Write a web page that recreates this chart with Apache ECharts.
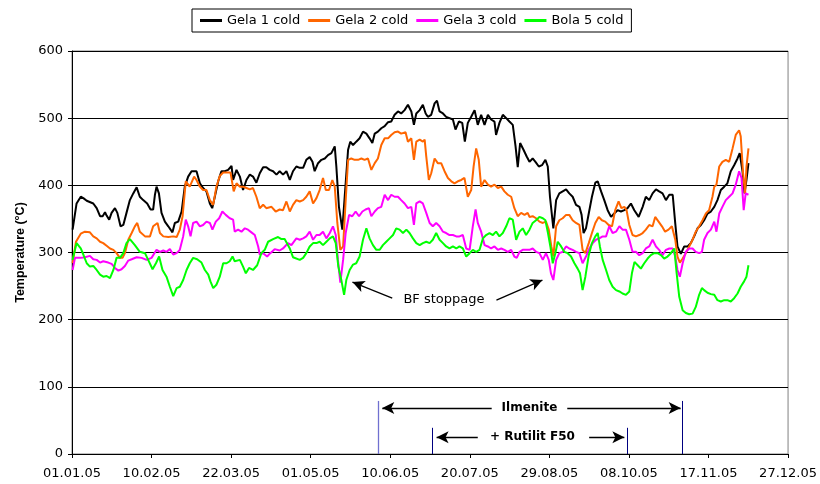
<!DOCTYPE html>
<html>
<head>
<meta charset="utf-8">
<script src="https://cdn.jsdelivr.net/npm/echarts@6/dist/echarts.min.js"></script>
<style>
html,body{margin:0;padding:0;background:#ffffff;}
#chart{width:820px;height:484px;}
</style>
</head>
<body>
<div id="chart"></div>
<script>
// ---------------- DATA ----------------
// x values: days since 01.01.05
const tickLabels = ['01.01.05','10.02.05','22.03.05','01.05.05','10.06.05','20.07.05','29.08.05','08.10.05','17.11.05','27.12.05'];
const seriesNames = ['Gela 1 cold','Gela 2 cold','Gela 3 cold','Bola 5 cold'];

const gela1Days = [0.3,2.3,4.4,5.7,7.4,10.7,12.4,14.1,15.4,16.6,17.4,18.7,19.9,21.6,22.8,24.4,25.8,27.4,29.1,30.8,32.5,34.1,35.8,37.8,39.5,40.8,41.7,42.5,43.7,45.0,46.7,48.4,50.5,51.7,53.4,55.1,56.7,58.4,60.1,62.6,64.3,65.9,67.6,69.3,70.5,71.8,73.5,75.1,76.8,78.5,80.2,81.0,82.7,84.4,86.0,87.7,89.4,91.0,92.7,94.4,96.1,97.7,99.4,101.1,102.8,104.4,106.1,107.8,109.5,111.1,112.8,
 114.5,116.2,117.8,119.5,120.9,122.0,123.7,125.4,127.1,128.7,130.4,132.1,132.9,134.2,135.9,137.1,138.8,139.9,141.3,142.9,144.6,146.3,148.0,149.6,151.0,152.2,153.8,155.5,157.2,158.9,160.5,162.2,163.9,165.5,167.2,168.9,170.6,171.9,173.1,174.8,176.4,177.8,178.9,180.6,182.3,183.5,184.8,186.5,188.1,189.8,191.5,192.8,194.5,196.2,197.5,199.0,200.7,202.4,204.0,205.7,207.4,209.1,210.7,212.4,213.2,214.9,216.6,218.3,219.9,221.6,223.0,224.1,225.3,227.0,228.6,
 230.0,231.6,233.0,234.7,236.3,238.0,239.2,240.3,242.0,243.4,245.0,246.7,248.4,250.0,251.7,253.4,255.1,256.2,257.2,258.4,259.8,261.4,263.1,264.3,266.0,267.6,269.3,271.0,272.6,274.3,276.0,277.7,279.3,281.0,282.7,284.9,286.9,288.5,290.2,291.9,293.6,295.2,296.9,298.6,300.3,302.0,303.3,304.4,306.1,307.8,309.5,311.1,312.8,314.5,316.2,317.8,319.5,321.2,322.9,324.5,326.2,327.9,329.5,331.2,332.9,334.6,335.7,337.1,338.1,339.1,340.1];
const gela1Temp = [334,373,383,381,377,373,366,354,354,360,355,349,359,366,359,339,341,359,378,388,397,383,378,373,364,364,386,398,388,359,346,339,330,344,346,361,398,413,421,421,403,396,391,373,366,383,406,421,421,423,429,408,423,413,393,408,416,413,404,418,427,427,423,421,416,421,416,421,408,421,428,
 426,426,438,442,435,421,433,438,440,445,448,458,428,368,334,383,453,465,460,465,470,480,477,470,463,477,480,485,488,494,495,505,510,507,512,520,510,490,507,512,520,507,502,505,522,526,510,507,502,500,498,483,495,493,465,493,502,512,490,505,490,505,498,495,475,493,505,500,495,490,458,427,463,453,443,
 435,440,435,428,430,438,428,383,336,378,388,391,394,388,383,371,368,356,329,336,358,383,404,406,391,378,363,353,358,363,361,363,366,373,363,353,368,383,378,388,394,391,388,378,386,386,343,309,298,309,309,314,324,336,341,348,358,361,368,378,393,398,403,421,430,440,448,421,388,408,433];

const gela2Days = [0.3,2.0,4.4,6.5,9.0,10.7,12.4,14.1,15.7,17.4,19.1,20.8,22.4,24.1,25.4,26.6,28.3,30.0,31.6,32.8,34.1,36.7,39.2,40.8,43.0,44.2,45.9,48.4,50.9,52.6,54.2,55.6,57.2,59.2,61.4,62.6,64.3,65.9,67.6,69.3,71.0,72.6,74.3,76.0,77.7,79.7,80.7,81.3,82.7,84.4,86.0,87.7,89.4,91.0,92.7,94.4,96.1,97.7,100.3,102.4,104.4,106.1,107.8,109.5,111.1,112.8,
 114.5,116.2,117.8,119.5,121.2,122.9,124.5,126.2,127.6,129.2,130.9,132.1,133.4,134.9,136.3,137.6,138.8,140.4,142.1,143.8,145.5,147.1,148.8,150.5,152.2,153.8,155.5,157.2,158.9,160.5,162.2,163.9,165.5,167.7,168.9,170.6,171.9,173.1,174.8,176.4,177.3,178.1,179.4,180.6,182.3,183.9,185.6,187.3,189.0,190.7,192.3,194.0,195.7,197.3,199.0,200.7,201.9,203.2,204.5,205.7,207.4,209.1,210.7,212.4,214.1,215.8,217.4,219.1,220.8,222.4,224.1,225.8,227.5,229.1,
 230.0,231.6,233.3,235.0,236.7,238.3,239.7,241.0,242.0,243.4,245.0,246.7,248.4,250.0,251.7,253.4,255.1,256.7,258.1,259.8,261.4,263.1,264.8,266.4,268.1,269.8,271.5,273.1,274.8,276.2,277.7,278.8,280.2,281.8,283.5,285.2,286.9,288.5,290.2,291.9,293.2,294.9,296.6,298.2,299.9,301.6,303.3,304.4,305.6,307.0,308.6,310.3,312.0,313.6,315.3,317.0,318.7,320.3,322.0,322.9,324.0,325.4,327.0,328.7,330.4,332.1,333.7,335.4,336.2,337.4,338.4,339.1,340.1];
const gela2Temp = [284,316,328,331,330,324,321,316,314,310,306,304,299,292,292,299,319,329,339,344,331,324,324,339,344,329,324,323,324,323,334,354,406,398,413,408,398,393,393,378,371,398,414,419,419,419,418,391,403,398,398,396,394,396,383,366,371,366,368,361,364,363,376,361,371,378,
 376,378,383,391,373,381,393,411,393,393,408,398,344,304,309,378,438,440,438,438,440,438,440,423,433,440,460,470,470,475,479,480,477,479,465,470,438,465,468,465,468,443,408,418,440,433,433,421,411,406,403,406,408,411,383,393,428,455,438,398,408,401,398,401,396,398,391,386,383,366,354,359,356,359,
 353,354,351,346,344,346,334,309,294,339,348,351,356,356,348,344,341,304,299,314,329,344,353,348,346,341,339,363,376,366,368,363,341,326,324,326,329,334,341,339,353,346,339,331,334,339,319,294,285,291,299,309,319,331,339,348,358,363,383,398,401,428,435,438,435,455,475,482,473,418,388,428,455];

const gela3Days = [0.3,1.5,4.4,6.5,9.0,10.7,12.4,14.1,15.7,18.2,19.9,21.6,23.3,24.9,26.6,28.3,30.0,32.5,35.0,37.5,40.0,42.5,44.2,45.9,47.5,49.2,50.9,52.6,54.2,55.9,57.2,58.4,59.6,60.9,62.6,64.3,65.9,67.6,69.3,70.6,72.3,74.0,75.6,77.3,79.3,81.0,81.8,83.5,85.2,86.9,88.5,90.2,91.9,93.6,94.4,96.1,98.1,99.7,101.9,104.4,106.1,108.6,110.3,112.8,
 114.5,116.2,117.8,119.5,121.2,122.9,124.5,126.2,127.9,129.6,131.2,132.6,133.7,134.9,136.3,137.6,139.3,140.9,142.6,144.3,146.0,147.6,149.3,150.5,152.2,153.8,155.5,157.2,158.9,160.5,162.2,163.9,165.5,167.2,168.9,170.6,171.9,173.1,174.8,176.4,178.1,179.8,181.4,183.1,184.8,186.5,188.1,189.8,191.5,193.2,194.8,196.5,198.2,199.9,201.5,202.9,204.0,205.7,207.4,209.1,210.7,212.4,214.1,215.8,217.4,219.1,220.8,222.4,223.6,225.0,226.6,228.3,
 230.0,231.6,233.3,235.0,236.7,238.3,239.7,240.8,242.0,243.4,245.0,246.7,248.4,250.0,251.7,253.4,255.1,256.7,258.4,260.1,261.8,263.4,265.1,266.8,268.5,270.1,271.8,273.5,275.2,276.8,278.5,280.2,281.8,283.5,285.2,286.9,288.5,290.2,291.9,293.6,295.2,296.9,298.6,300.3,302.0,303.3,304.4,305.6,307.0,308.6,310.3,312.0,313.6,315.3,316.7,317.8,319.5,321.2,322.9,324.0,325.4,327.0,328.7,330.4,332.1,333.7,335.4,336.6,337.7,338.7,340.1];
const gela3Temp = [274,292,292,293,295,290,289,285,287,285,283,277,273,275,280,288,290,293,292,289,292,304,301,303,301,305,297,299,304,324,349,339,324,344,346,339,341,346,344,334,346,351,361,356,351,349,331,334,331,336,334,330,326,309,297,299,294,299,305,303,306,314,311,321,
 319,321,324,331,319,326,326,331,321,329,339,326,289,255,289,329,356,354,361,354,361,364,366,354,361,366,368,386,378,386,383,383,378,373,366,368,341,373,376,373,359,344,339,344,339,331,329,326,326,324,324,326,306,304,339,364,344,331,311,309,306,309,304,306,304,301,304,294,292,301,304,304,
 304,306,301,299,289,299,289,269,259,289,299,301,309,306,304,301,299,284,294,306,314,319,321,324,324,339,329,331,339,334,334,319,301,301,296,299,306,309,319,309,304,296,304,306,306,294,274,264,284,301,306,306,301,299,301,319,329,334,346,331,358,368,378,383,388,401,421,411,363,388,386];

const bola5Days = [0.3,2.3,4.4,5.7,7.4,9.0,10.7,12.4,14.1,15.7,17.4,19.1,20.8,22.4,24.1,25.8,27.4,29.1,30.0,31.6,34.1,36.7,38.3,40.5,42.2,43.8,45.5,47.5,49.2,50.9,52.6,54.2,55.9,57.6,59.2,60.9,62.9,65.1,66.8,68.5,69.6,71.0,72.6,74.3,76.0,77.7,79.3,80.7,81.8,84.4,86.0,87.4,89.0,91.0,93.1,95.2,96.9,98.6,101.1,103.6,105.3,106.9,109.5,111.1,
 114.5,116.2,117.8,119.5,121.2,122.9,124.5,126.2,127.9,129.6,131.2,132.6,133.9,135.4,136.8,137.9,139.6,141.3,142.9,144.6,146.3,148.0,149.6,151.3,153.0,154.7,156.3,158.0,159.7,161.4,163.0,164.7,166.4,168.1,169.7,171.4,173.1,174.8,176.4,178.1,179.8,181.4,183.1,184.8,186.5,188.1,189.8,191.5,193.2,194.8,196.5,198.2,199.9,201.5,203.2,204.9,206.6,208.2,209.9,211.6,213.2,214.9,216.6,218.3,219.9,221.6,223.3,225.0,226.6,228.3,
 230.0,231.6,233.3,235.0,236.7,238.0,239.3,240.5,241.7,243.0,244.2,245.9,247.5,249.2,250.9,252.6,254.2,255.4,256.7,258.1,259.8,261.4,263.1,264.3,265.4,266.8,268.5,270.1,271.8,273.5,275.2,276.8,278.5,280.2,281.5,282.8,284.4,286.0,287.7,289.4,291.0,292.7,294.4,296.1,297.7,299.4,301.1,302.8,304.0,305.3,307.0,308.6,310.3,312.0,313.6,315.3,316.7,317.8,319.5,321.2,322.9,324.5,326.2,327.9,329.5,331.2,332.9,334.6,336.2,337.9,339.1,340.1];
const bola5Temp = [289,314,306,297,284,279,280,274,267,264,265,262,274,292,292,299,314,320,321,311,301,299,289,275,284,294,274,264,249,235,247,249,259,274,284,292,290,285,274,267,257,247,252,264,284,284,287,294,287,289,279,269,277,274,281,299,304,316,320,323,320,320,306,293,
 289,292,299,309,314,314,316,311,316,321,324,314,279,259,237,259,274,282,284,294,319,336,321,311,304,304,311,316,321,326,336,334,329,334,329,321,314,311,314,316,314,319,329,319,314,309,306,309,306,309,306,294,299,304,301,304,321,326,329,326,331,324,329,339,351,349,319,331,336,326,
 334,344,348,353,351,348,329,309,284,299,316,309,301,299,294,284,276,269,244,264,296,314,324,329,309,289,274,259,249,244,242,239,237,242,269,286,281,276,284,291,296,299,299,296,291,294,299,306,269,234,214,210,208,209,219,237,247,244,240,238,237,229,227,229,229,227,232,239,249,257,264,281];

// Annotations (days since 01.01.05 / °C)
const ilmeniteMarkers = [154, 307];      // start / end of Ilmenite addition
const ilmeniteMarkerTop = 79;
const rutilMarkers = [181, 279];          // start / end of + Rutilit F50
const rutilMarkerTop = 39;
const ilmeniteArrowLevel = 68.5;
const ilmeniteArrowTails = [211, 249];
const ilmeniteArrowHeads = [156, 306];
const ilmeniteTextPos = [230, 68.5];
const rutilArrowLevel = 25;
const rutilArrowTails = [204, 260];
const rutilArrowHeads = [183.3, 277.7];
const rutilTextPos = [231.5, 25];
const bfTextPos = [187, 230];
const bfArrows = [[[161, 232], [141, 256]], [[213.4, 229], [236.5, 259]]];

// ---------------- CHART ----------------
const FONT = 'DejaVu Sans';
function pairs(d, v) {
  const n = Math.min(d.length, v.length), out = [];
  for (let i = 0; i < n; i++) out.push([d[i], v[i]]);
  return out;
}
const colors = ['#000000', '#ff6600', '#ff00ff', '#00ff00'];
const dataSets = [[gela1Days, gela1Temp], [gela2Days, gela2Temp], [gela3Days, gela3Temp], [bola5Days, bola5Temp]];

const series = seriesNames.map((name, i) => ({
  name: name,
  type: 'line',
  data: pairs(dataSets[i][0], dataSets[i][1]),
  symbol: 'none',
  showSymbol: false,
  color: colors[i],
  itemStyle: { color: colors[i] },
  lineStyle: { color: colors[i], width: 2 },
  emphasis: { disabled: true },
  silent: true,
  z: 2 + i
}));

// vertical marker lines
series[2].markLine = {
  silent: true, animation: false, symbol: ['none', 'none'],
  label: { show: false },
  emphasis: { disabled: true },
  lineStyle: { color: '#000080', width: 1, type: 'solid' },
  data: [
    [{ coord: [ilmeniteMarkers[0], 0], lineStyle: { color: '#7070d0', width: 1.3, type: 'solid' } }, { coord: [ilmeniteMarkers[0], ilmeniteMarkerTop] }],
    [{ coord: [ilmeniteMarkers[1], 0] }, { coord: [ilmeniteMarkers[1], ilmeniteMarkerTop] }],
    [{ coord: [rutilMarkers[0], 0] }, { coord: [rutilMarkers[0], rutilMarkerTop] }],
    [{ coord: [rutilMarkers[1], 0] }, { coord: [rutilMarkers[1], rutilMarkerTop] }]
  ]
};

// arrows + texts
const arrowData = [];
for (let k = 0; k < 2; k++) {
  arrowData.push([{ coord: [ilmeniteArrowTails[k], ilmeniteArrowLevel] }, { coord: [ilmeniteArrowHeads[k], ilmeniteArrowLevel] }]);
  arrowData.push([{ coord: [rutilArrowTails[k], rutilArrowLevel] }, { coord: [rutilArrowHeads[k], rutilArrowLevel] }]);
  arrowData.push([{ coord: bfArrows[k][0] }, { coord: bfArrows[k][1] }]);
}
series[3].markLine = {
  silent: true, animation: false, symbol: ['none', 'arrow'], symbolSize: [9, 12],
  label: { show: false },
  emphasis: { disabled: true },
  lineStyle: { color: '#000000', width: 1.3, type: 'solid' },
  data: arrowData
};
series[3].markPoint = {
  silent: true, animation: false,
  symbol: 'circle', symbolSize: 1,
  itemStyle: { color: 'rgba(0,0,0,0)' },
  label: { show: true, position: 'inside', color: '#000', fontFamily: FONT, fontSize: 12, fontWeight: 'bold', formatter: p => p.name },
  data: [
    { name: 'Ilmenite', coord: ilmeniteTextPos },
    { name: '+ Rutilit F50', coord: rutilTextPos },
    { name: 'BF stoppage', coord: bfTextPos, label: { fontWeight: 'normal', fontSize: 13 } }
  ]
};

const chart = echarts.init(document.getElementById('chart'), null, { renderer: 'canvas' });
chart.setOption({
  animation: false,
  backgroundColor: '#ffffff',
  textStyle: { fontFamily: FONT, color: '#000' },
  legend: {
    data: seriesNames.map((n, i) => ({ name: n, icon: 'rect', itemStyle: { color: colors[i] } })),
    left: 192, top: 9,
    orient: 'horizontal',
    selectedMode: false,
    borderColor: '#000', borderWidth: 1,
    padding: [5, 8, 5, 8],
    itemGap: 8, itemWidth: 22, itemHeight: 3,
    textStyle: { fontFamily: FONT, fontSize: 13, color: '#000' }
  },
  grid: { left: 72, right: 31, top: 51, bottom: 30, show: true, borderColor: '#808080', borderWidth: 1, backgroundColor: 'transparent' },
  xAxis: {
    type: 'value', min: 0, max: 360, interval: 40,
    axisLine: { show: true, onZero: false, lineStyle: { color: '#000', width: 1 } },
    axisTick: { show: true, length: 4, lineStyle: { color: '#000' } },
    axisLabel: { formatter: v => tickLabels[Math.round(v / 40)], fontFamily: FONT, fontSize: 13, color: '#000', margin: 13, showMaxLabel: true, showMinLabel: true },
    splitLine: { show: false }
  },
  yAxis: {
    type: 'value', min: 0, max: 600, interval: 100,
    name: 'Temperature (°C)', nameLocation: 'middle', nameGap: 44, nameRotate: 90,
    nameTextStyle: { fontFamily: 'Liberation Sans', fontWeight: 'bold', fontSize: 12.5, color: '#000' },
    axisLine: { show: true, lineStyle: { color: '#000', width: 1 } },
    axisTick: { show: true, length: 4, lineStyle: { color: '#000' } },
    axisLabel: { fontFamily: FONT, fontSize: 13, color: '#000', margin: 9 },
    splitLine: { show: true, lineStyle: { color: '#000', width: 1 } }
  },
  series: series
});
</script>
</body>
</html>
